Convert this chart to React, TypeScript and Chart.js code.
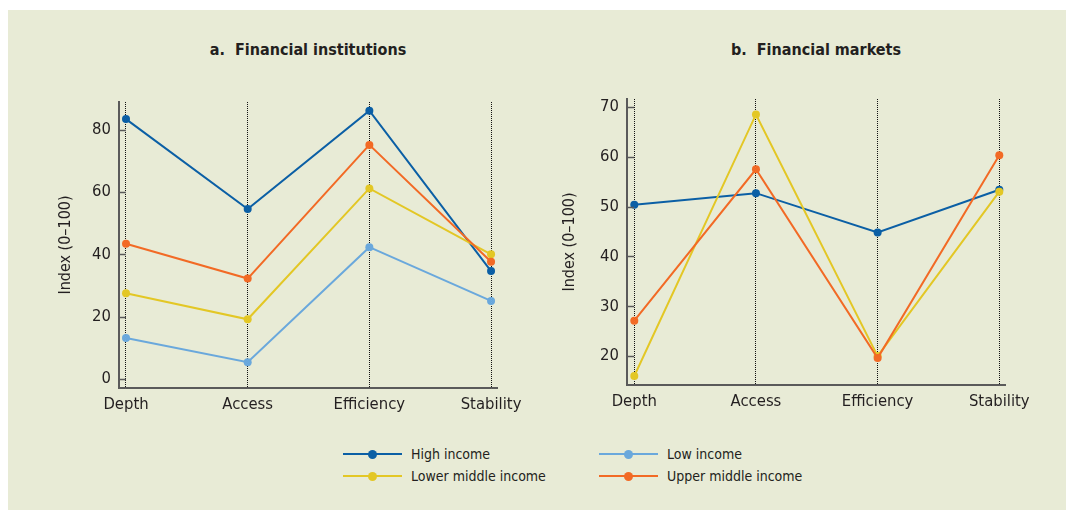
import React, { useEffect, useRef } from "react";
import { Chart, registerables } from "chart.js";

Chart.register(...registerables);

const categories = ["Depth", "Access", "Efficiency", "Stability"];
const seriesNames = ["High income", "Low income", "Lower middle income", "Upper middle income"];
const seriesColors = ["#0b5fa5", "#6aa8dc", "#e3c725", "#f26a25"];
const seriesOrder = [3, 2, 1, 0];

// Panel a: Financial institutions
const instHigh = [83.5, 54.6, 86.2, 34.6];
const instLow = [13.1, 5.3, 42.3, 25.0];
const instLowerMiddle = [27.5, 19.1, 61.2, 40.0];
const instUpperMiddle = [43.4, 32.2, 75.2, 37.6];

// Panel b: Financial markets
const mktHigh = [50.4, 52.7, 44.8, 53.4];
const mktLowerMiddle = [16.0, 68.5, 20.0, 53.0];
const mktUpperMiddle = [27.1, 57.5, 19.6, 60.3];

const instTicks = [0, 20, 40, 60, 80];
const mktTicks = [20, 30, 40, 50, 60, 70];

const FONT = "'Liberation Sans Narrow', 'DejaVu Sans Condensed', 'Liberation Sans', sans-serif";
const TEXT = "#231f20";
const AXIS = "#5a5a5a";

const innerTicks = {
  id: "innerTicks",
  afterDraw(chart: any) {
    const { ctx, chartArea, scales } = chart;
    const y = scales.y;
    ctx.save();
    ctx.strokeStyle = AXIS;
    ctx.lineWidth = 1.5;
    y.ticks.forEach((t: any) => {
      const py = Math.round(y.getPixelForValue(t.value)) + 0.5;
      ctx.beginPath();
      ctx.moveTo(chartArea.left, py);
      ctx.lineTo(chartArea.left + 7, py);
      ctx.stroke();
    });
    ctx.restore();
  },
};

function buildConfig(series: { values: number[]; idx: number }[], yMin: number, yMax: number, yTicks: number[], xMin: number, xMax: number, pad: any, yWidth: number) {
  return {
    type: "line",
    data: {
      datasets: series.map((s) => ({
        label: seriesNames[s.idx],
        data: s.values.map((v, i) => ({ x: i, y: v })),
        borderColor: seriesColors[s.idx],
        backgroundColor: seriesColors[s.idx],
        pointBackgroundColor: seriesColors[s.idx],
        pointBorderColor: seriesColors[s.idx],
        pointRadius: 4,
        pointBorderWidth: 0,
        borderWidth: 2,
        tension: 0,
        order: seriesOrder[s.idx],
      })),
    },
    options: {
      responsive: false,
      animation: false,
      events: [],
      layout: { padding: pad },
      plugins: { legend: { display: false }, tooltip: { enabled: false }, title: { display: false } },
      scales: {
        x: {
          type: "linear",
          min: xMin,
          max: xMax,
          afterBuildTicks: (s: any) => {
            s.ticks = categories.map((_, i) => ({ value: i }));
          },
          afterFit: (s: any) => {
            s.height = 30;
            s.paddingLeft = 0;
            s.paddingRight = 0;
          },
          ticks: {
            autoSkip: false,
            maxRotation: 0,
            padding: 7,
            color: TEXT,
            font: { family: FONT, size: 16.5 },
            callback: (v: any) => categories[v] ?? "",
          },
          grid: { display: true, drawTicks: false, drawOnChartArea: true, color: "#111111", lineWidth: 1 },
          border: { display: true, color: AXIS, width: 2, dash: [1, 1] },
        },
        y: {
          type: "linear",
          min: yMin,
          max: yMax,
          afterBuildTicks: (s: any) => {
            s.ticks = yTicks.map((v) => ({ value: v }));
          },
          afterFit: (s: any) => {
            s.width = yWidth;
            s.paddingTop = 0;
            s.paddingBottom = 0;
          },
          ticks: {
            padding: 8,
            color: TEXT,
            font: { family: FONT, size: 16.5 },
          },
          grid: { display: false, drawTicks: false },
          border: { display: true, color: AXIS, width: 2 },
          title: {
            display: true,
            text: "Index (0–100)",
            color: TEXT,
            font: { family: FONT, size: 16 },
            padding: { top: 4, bottom: 4 },
          },
        },
      },
    },
    plugins: [innerTicks],
  } as any;
}

function LineChart(props: { left: number; top: number; width: number; height: number; config: any }) {
  const ref = useRef<HTMLCanvasElement | null>(null);
  useEffect(() => {
    if (!ref.current) return;
    const chart = new Chart(ref.current, props.config);
    return () => chart.destroy();
  }, []);
  return (
    <canvas
      ref={ref}
      width={props.width}
      height={props.height}
      style={{ position: "absolute", left: props.left, top: props.top, width: props.width, height: props.height }}
    />
  );
}

const instConfig = buildConfig(
  [
    { values: instHigh, idx: 0 },
    { values: instLow, idx: 1 },
    { values: instLowerMiddle, idx: 2 },
    { values: instUpperMiddle, idx: 3 },
  ],
  -3,
  89,
  instTicks,
  -0.0575,
  3.049,
  { top: 12, right: 45, bottom: 12, left: 0 },
  67
);

const mktConfig = buildConfig(
  [
    { values: mktHigh, idx: 0 },
    { values: mktLowerMiddle, idx: 2 },
    { values: mktUpperMiddle, idx: 3 },
  ],
  14.2,
  71.6,
  mktTicks,
  -0.06,
  3.047,
  { top: 9, right: 61, bottom: 15, left: 0 },
  71
);

const legendPos = [
  { x: 343, y: 454 },
  { x: 599, y: 454 },
  { x: 343, y: 476 },
  { x: 599, y: 476 },
];

const titleStyle: any = {
  position: "absolute",
  width: 300,
  top: 40,
  textAlign: "center",
  fontFamily: FONT,
  fontWeight: "bold",
  fontSize: 16,
  color: TEXT,
  whiteSpace: "pre",
};

export default function App() {
  return (
    <div style={{ position: "fixed", left: 0, top: 0, width: 1066, height: 510, background: "#ffffff", overflow: "hidden" }}>
      <div style={{ position: "absolute", left: 8, top: 10, width: 1058, height: 500, background: "#e8ebd6" }} />
      <div style={{ ...titleStyle, left: 158 }}>{"a.  Financial institutions"}</div>
      <div style={{ ...titleStyle, left: 666 }}>{"b.  Financial markets"}</div>
      <LineChart left={52} top={90} width={490} height={340} config={instConfig} />
      <LineChart left={556} top={90} width={510} height={340} config={mktConfig} />
      {seriesNames.map((name, i) => (
        <div key={name}>
          <div
            style={{
              position: "absolute",
              left: legendPos[i].x,
              top: legendPos[i].y - 1,
              width: 59,
              height: 2,
              background: seriesColors[i],
            }}
          />
          <div
            style={{
              position: "absolute",
              left: legendPos[i].x + 29.5 - 4.5,
              top: legendPos[i].y - 4.5,
              width: 9,
              height: 9,
              borderRadius: "50%",
              background: seriesColors[i],
            }}
          />
          <div
            style={{
              position: "absolute",
              left: legendPos[i].x + 68,
              top: legendPos[i].y - 10,
              lineHeight: "20px",
              fontFamily: FONT,
              fontSize: 14,
              color: TEXT,
              whiteSpace: "pre",
            }}
          >
            {name}
          </div>
        </div>
      ))}
    </div>
  );
}
